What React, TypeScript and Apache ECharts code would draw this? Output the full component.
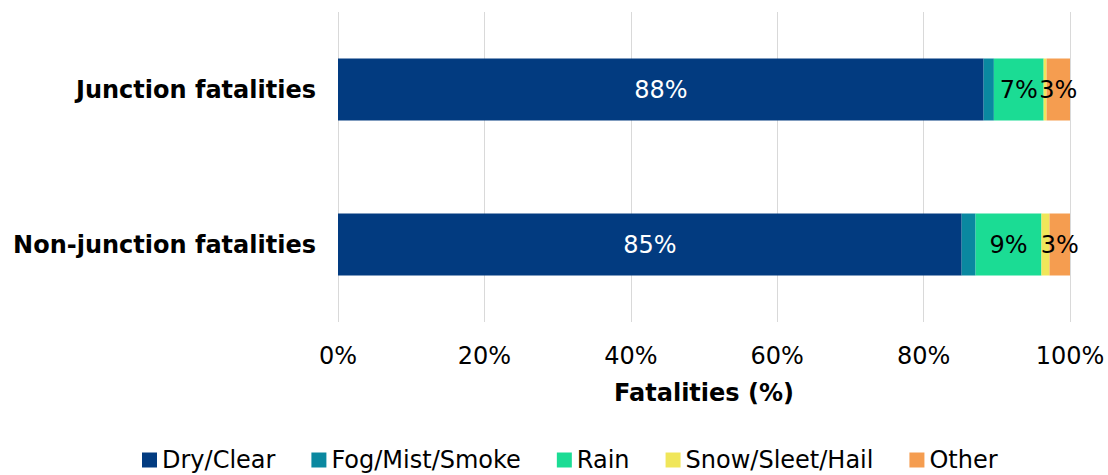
import React, { useEffect, useRef } from "react";
import * as echarts from "echarts";

const categories = ["Junction fatalities", "Non-junction fatalities"];
const seriesNames = ["Dry/Clear", "Fog/Mist/Smoke", "Rain", "Snow/Sleet/Hail", "Other"];
const dryClear = [88.2, 85.2];
const fogMistSmoke = [1.4, 1.9];
const rain = [6.8, 9.0];
const snowSleetHail = [0.4, 1.1];
const other = [3.2, 2.8];
const xTicks = [0, 20, 40, 60, 80, 100];
const colors = ["#023B80", "#0A88A0", "#1BDC94", "#F0E65A", "#F59D50"];
const showLabel = [true, false, true, false, true];
const labelColors = ["#ffffff", "#000000", "#000000", "#000000", "#000000"];

export default function App() {
  const ref = useRef<HTMLDivElement>(null);
  useEffect(() => {
    document.body.style.margin = "0";
    const chart = echarts.init(ref.current!, null, { renderer: "svg" });
    const values = [dryClear, fogMistSmoke, rain, snowSleetHail, other];
    const font = "'DejaVu Sans', Verdana, sans-serif";
    chart.setOption({
      animation: false,
      textStyle: { fontFamily: font },
      grid: { left: 338, right: 38, top: 12, bottom: 153, containLabel: false },
      legend: {
        data: seriesNames,
        left: 142,
        top: 448,
        padding: 0,
        icon: "rect",
        itemWidth: 15,
        itemHeight: 15,
        itemGap: 36,
        textStyle: { fontSize: 24, lineHeight: 24, color: "#000", fontFamily: font },
      },
      xAxis: {
        type: "value",
        min: xTicks[0],
        max: xTicks[xTicks.length - 1],
        interval: 20,
        axisLabel: { formatter: "{value}%", fontSize: 24, color: "#000", margin: 22 },
        axisLine: { show: false },
        axisTick: { show: false },
        splitLine: { lineStyle: { color: "#d9d9d9", width: 1 } },
        name: "Fatalities (%)",
        nameLocation: "middle",
        nameGap: 59,
        nameTextStyle: { fontSize: 24, fontWeight: "bold", color: "#000", verticalAlign: "top" },
      },
      yAxis: {
        type: "category",
        data: categories,
        inverse: true,
        axisLine: { show: false },
        axisTick: { show: false },
        axisLabel: { fontSize: 24, fontWeight: "bold", color: "#000", margin: 22 },
      },
      series: seriesNames.map((name, i) => ({
        name,
        type: "bar",
        stack: "total",
        barWidth: 62,
        data: values[i],
        itemStyle: { color: colors[i] },
        label: {
          show: showLabel[i],
          position: "inside",
          fontSize: 24,
          color: labelColors[i],
          formatter: (p: any) => Math.round(p.value) + "%",
        },
      })),
    });
    return () => chart.dispose();
  }, []);
  return <div ref={ref} style={{ width: 1108, height: 475 }} />;
}
